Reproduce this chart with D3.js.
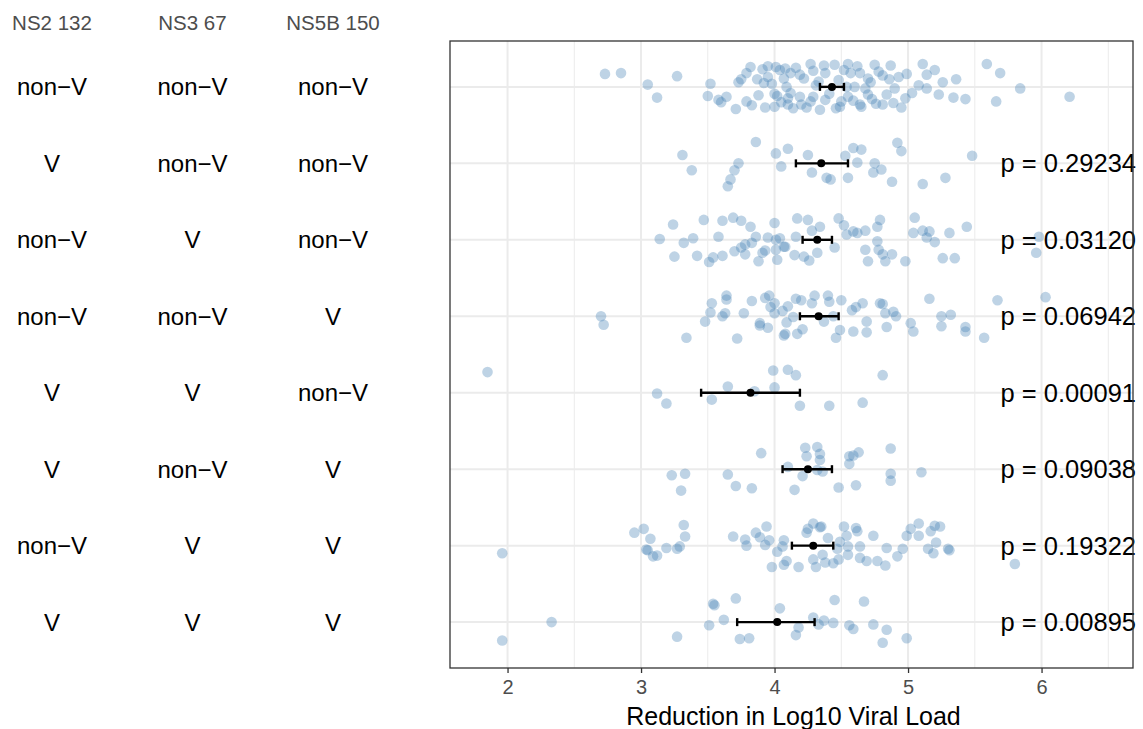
<!DOCTYPE html>
<html>
<head>
<meta charset="utf-8">
<script src="https://cdn.jsdelivr.net/npm/d3@7"></script>
<style>
  body { margin: 0; background: #fff; }
  svg text { font-family: "Liberation Sans", Arial, Helvetica, sans-serif; }
</style>
</head>
<body>
<svg id="chart" width="1143" height="729"></svg>
<script>
// Variant status at the three sites, one entry per genotype combination (top to bottom)
const siteNames = ["NS2 132", "NS3 67", "NS5B 150"];
const ns2Status  = ["non−V", "V", "non−V", "non−V", "V", "V", "non−V", "V"];
const ns3Status  = ["non−V", "non−V", "V", "non−V", "V", "non−V", "V", "V"];
const ns5bStatus = ["non−V", "non−V", "non−V", "V", "non−V", "V", "V", "V"];

// Comparison p-values against the all non-variant group
const pValues = [null, "0.29234", "0.03120", "0.06942", "0.00091", "0.09038", "0.19322", "0.00895"];

// Group mean and interval of the reduction in log10 viral load
const groupMeans = [4.43, 4.35, 4.32, 4.33, 3.82, 4.25, 4.29, 4.02];
const groupLower = [4.34, 4.16, 4.21, 4.19, 3.45, 4.06, 4.13, 3.72];
const groupUpper = [4.52, 4.55, 4.43, 4.48, 4.19, 4.43, 4.44, 4.30];

// Individual patients: [reduction, vertical jitter in row units]
const patientsG1 = [[2.73,-0.17],[2.85,-0.18],[3.05,-0.03],[3.27,-0.14],[3.12,0.14],[3.52,-0.04],[3.50,0.12],[3.58,0.17],[3.60,0.20],[3.64,0.13],[3.71,0.29],[3.73,-0.06],[3.75,-0.10],[3.79,-0.18],[3.82,-0.26],[3.79,0.19],[3.83,0.24],[3.87,-0.10],[3.88,0.11],[3.91,-0.23],[3.93,0.27],[3.95,-0.27],[3.95,-0.13],[3.98,-0.04],[4.00,0.09],[4.00,0.26],[4.01,-0.26],[4.02,0.12],[4.04,-0.22],[4.07,-0.11],[4.08,-0.24],[4.09,0.00],[4.10,0.15],[4.16,-0.25],[4.19,-0.16],[4.22,-0.11],[4.27,-0.30],[4.29,-0.21],[4.37,-0.28],[4.38,-0.18],[4.45,-0.29],[4.48,-0.09],[4.55,-0.30],[4.57,-0.18],[4.64,-0.18],[4.70,-0.11],[4.75,-0.29],[4.81,-0.15],[4.87,-0.28],[4.93,-0.13],[4.99,-0.17],[5.11,-0.30],[5.14,-0.16],[5.20,-0.22],[5.26,-0.06],[5.36,-0.10],[5.59,-0.30],[5.69,-0.18],[5.84,0.02],[6.21,0.13],[5.66,0.19],[5.43,0.16],[5.34,0.14],[5.23,0.10],[5.14,0.02],[5.08,-0.02],[4.98,0.15],[4.95,0.27],[4.89,0.21],[4.81,0.23],[4.70,0.10],[4.68,0.02],[4.65,0.26],[4.64,0.23],[4.55,0.13],[4.50,0.19],[4.49,0.26],[4.38,0.17],[4.34,0.30],[4.29,0.13],[4.27,0.19],[4.20,0.23],[4.19,0.13],[4.14,0.28],[4.12,0.08],[4.10,0.23],[4.90,0.02],[4.84,0.10],[4.72,-0.06],[4.60,0.00],[4.33,-0.07],[4.54,0.00],[4.05,0.20],[4.12,-0.18],[4.24,0.27],[4.31,-0.02],[4.41,0.09],[4.46,0.28],[4.52,-0.22],[4.59,0.18],[4.62,-0.27],[4.73,0.16],[4.78,-0.20],[4.86,-0.10],[5.03,0.08],[3.92,-0.05],[4.76,0.22]];
const patientsG2 = [[3.86,-0.28],[4.01,-0.13],[4.05,0.04],[3.31,-0.11],[3.38,0.09],[3.73,0.00],[3.70,0.09],[3.67,0.21],[3.65,0.30],[4.10,-0.19],[4.25,-0.11],[4.28,0.12],[4.39,0.19],[4.42,0.21],[4.53,-0.10],[4.59,-0.20],[4.65,-0.18],[4.62,-0.01],[4.55,0.19],[4.75,0.00],[4.74,0.12],[4.80,0.08],[4.88,0.24],[4.92,-0.27],[4.95,-0.16],[5.11,0.27],[5.28,0.19],[5.48,-0.10]];
const patientsG3 = [[3.24,-0.20],[3.14,-0.01],[3.25,0.22],[3.32,0.04],[3.39,-0.02],[3.42,0.21],[3.47,-0.26],[3.51,0.29],[3.54,0.23],[3.58,-0.04],[3.61,-0.25],[3.61,0.21],[3.69,-0.29],[3.70,0.15],[3.75,-0.25],[3.75,0.10],[3.78,0.19],[3.78,0.06],[3.82,-0.17],[3.83,0.04],[3.86,-0.04],[3.88,0.28],[3.91,0.17],[3.93,0.14],[3.95,-0.03],[4.00,-0.22],[4.01,0.00],[4.02,0.26],[4.01,0.13],[4.04,-0.02],[4.07,0.09],[4.17,-0.28],[4.25,-0.26],[4.28,-0.12],[4.34,-0.17],[4.16,-0.04],[4.08,0.09],[4.15,0.20],[4.22,0.22],[4.26,0.27],[4.32,0.17],[4.45,0.10],[4.48,-0.28],[4.52,-0.19],[4.54,-0.07],[4.59,-0.11],[4.62,-0.09],[4.68,-0.12],[4.68,0.13],[4.70,0.28],[4.77,0.02],[4.77,-0.17],[4.79,-0.26],[4.78,0.13],[4.81,0.19],[4.83,0.28],[4.88,0.19],[4.98,0.28],[5.04,-0.09],[5.05,-0.29],[5.11,-0.12],[5.14,-0.03],[5.16,-0.11],[5.20,0.03],[5.26,0.24],[5.31,-0.09],[5.35,0.24],[5.44,-0.17],[5.96,0.17],[5.98,-0.04]];
const patientsG4 = [[2.70,0.00],[2.72,0.11],[3.34,0.28],[3.48,0.07],[3.52,-0.05],[3.53,-0.17],[3.61,0.00],[3.63,-0.04],[3.64,-0.22],[3.64,-0.27],[3.72,0.29],[3.77,-0.04],[3.83,-0.20],[3.89,0.09],[3.89,0.12],[3.93,-0.24],[3.96,-0.27],[3.95,0.15],[3.97,-0.12],[4.00,-0.04],[4.00,-0.17],[4.06,-0.07],[4.07,0.25],[4.09,0.08],[4.10,-0.13],[4.16,-0.23],[4.20,-0.21],[4.14,0.01],[4.08,0.23],[4.17,0.23],[4.21,0.17],[4.28,-0.17],[4.30,-0.27],[4.40,-0.27],[4.41,-0.19],[4.37,0.07],[4.44,0.00],[4.50,-0.21],[4.49,0.18],[4.46,0.28],[4.59,0.20],[4.58,-0.08],[4.61,-0.12],[4.66,-0.17],[4.69,0.07],[4.69,0.21],[4.79,-0.17],[4.81,-0.16],[4.83,-0.04],[4.84,0.14],[4.89,-0.06],[4.91,0.00],[5.02,0.09],[5.04,0.20],[5.16,-0.23],[5.25,0.00],[5.25,0.13],[5.32,-0.02],[5.43,0.14],[5.43,0.20],[5.57,0.28],[5.67,-0.21],[6.03,-0.25]];
const patientsG5 = [[1.85,-0.27],[3.12,0.01],[3.19,0.14],[3.53,0.09],[3.65,-0.08],[3.85,-0.02],[3.99,-0.29],[4.00,-0.07],[4.10,-0.30],[4.16,-0.23],[4.19,0.17],[4.41,0.17],[4.66,0.13],[4.81,-0.23]];
const patientsG6 = [[3.90,-0.21],[3.23,0.08],[3.33,0.06],[3.30,0.28],[3.65,0.07],[3.71,0.22],[3.83,0.25],[4.10,-0.03],[4.15,0.27],[4.21,0.09],[4.23,-0.28],[4.24,-0.17],[4.32,-0.29],[4.34,-0.20],[4.34,-0.12],[4.32,0.01],[4.36,0.03],[4.48,0.24],[4.56,-0.17],[4.56,-0.07],[4.59,-0.18],[4.63,-0.22],[4.61,0.21],[4.87,-0.27],[4.87,0.06],[4.87,0.15],[5.10,0.04]];
const patientsG7 = [[1.96,0.10],[2.95,-0.17],[3.02,-0.22],[3.07,-0.09],[3.04,0.05],[3.05,0.06],[3.09,0.14],[3.12,0.13],[3.19,0.03],[3.27,0.04],[3.29,0.01],[3.32,-0.27],[3.33,-0.12],[3.69,-0.12],[3.78,-0.08],[3.79,0.00],[3.86,-0.17],[3.89,-0.11],[3.94,-0.25],[3.93,-0.01],[3.96,-0.07],[3.98,0.28],[4.02,0.08],[4.06,0.01],[4.07,-0.07],[4.07,0.25],[4.09,0.20],[4.18,0.28],[4.24,-0.17],[4.25,-0.22],[4.29,-0.29],[4.34,-0.24],[4.35,-0.25],[4.29,0.18],[4.31,0.28],[4.36,0.12],[4.38,0.22],[4.40,-0.10],[4.44,0.23],[4.48,0.18],[4.47,0.04],[4.49,-0.05],[4.52,-0.25],[4.54,-0.13],[4.55,0.01],[4.55,0.12],[4.61,-0.23],[4.62,-0.19],[4.64,0.01],[4.64,0.16],[4.69,0.20],[4.74,-0.13],[4.77,0.20],[4.83,0.26],[4.84,0.03],[4.92,0.14],[4.96,0.04],[4.99,-0.13],[5.02,-0.22],[5.08,-0.29],[5.08,-0.13],[5.17,-0.19],[5.20,-0.26],[5.24,-0.25],[5.21,-0.04],[5.15,0.04],[5.19,0.10],[5.30,0.04],[5.31,0.06],[5.80,0.24]];
const patientsG8 = [[1.96,0.24],[2.33,0.00],[3.27,0.19],[3.51,0.04],[3.54,-0.24],[3.55,-0.22],[3.62,-0.03],[3.71,-0.31],[3.74,0.22],[3.81,0.21],[4.04,-0.18],[4.18,0.07],[4.16,0.17],[4.29,-0.06],[4.33,0.03],[4.37,-0.02],[4.44,0.01],[4.45,-0.29],[4.56,0.04],[4.59,0.09],[4.67,-0.27],[4.74,0.03],[4.84,0.10],[4.81,0.27],[4.99,0.21]];

// Axis ticks
const majorTicks = [2, 3, 4, 5, 6];
const minorTicks = [2.5, 3.5, 4.5, 5.5, 6.5];
const axisTitle = "Reduction in Log10 Viral Load";

const groups = [patientsG1, patientsG2, patientsG3, patientsG4, patientsG5, patientsG6, patientsG7, patientsG8];
const statusColumns = [ns2Status, ns3Status, ns5bStatus];

const svg = d3.select("#chart");
const panel = { left: 450, right: 1133, top: 41, bottom: 668 };

const x = d3.scaleLinear().domain([1.569, 6.685]).range([panel.left, panel.right]);
const y = d3.scalePoint().domain(d3.range(groups.length)).range([panel.top, panel.bottom]).padding(0.6);
const colX = d3.scalePoint().domain(siteNames).range([52, 333]);

// Grid
const grid = svg.append("g");
grid.selectAll("line.minor").data(minorTicks.filter(t => x(t) < panel.right)).join("line")
  .attr("x1", d => x(d)).attr("x2", d => x(d))
  .attr("y1", panel.top).attr("y2", panel.bottom)
  .attr("stroke", "#ebebeb").attr("stroke-width", 1);
grid.selectAll("line.majx").data(majorTicks).join("line")
  .attr("x1", d => x(d)).attr("x2", d => x(d))
  .attr("y1", panel.top).attr("y2", panel.bottom)
  .attr("stroke", "#ebebeb").attr("stroke-width", 2);
grid.selectAll("line.majy").data(y.domain()).join("line")
  .attr("x1", panel.left).attr("x2", panel.right)
  .attr("y1", d => y(d)).attr("y2", d => y(d))
  .attr("stroke", "#ebebeb").attr("stroke-width", 2);

// Patient points
const pts = groups.flatMap((g, i) => g.map(([v, j]) => ({ i, v, j })));
svg.append("g").selectAll("circle").data(pts).join("circle")
  .attr("cx", d => x(d.v))
  .attr("cy", d => y(d.i) + d.j * y.step())
  .attr("r", 5.3)
  .attr("fill", "#4682b4")
  .attr("fill-opacity", 0.35);

// Mean and interval
const summary = groupMeans.map((m, i) => ({ i, m, lo: groupLower[i], hi: groupUpper[i] }));
const eb = svg.append("g").attr("stroke", "#000").attr("stroke-width", 2.4);
eb.selectAll("line.bar").data(summary).join("line")
  .attr("x1", d => x(d.lo)).attr("x2", d => x(d.hi))
  .attr("y1", d => y(d.i)).attr("y2", d => y(d.i));
eb.selectAll("line.lo").data(summary).join("line")
  .attr("x1", d => x(d.lo)).attr("x2", d => x(d.lo))
  .attr("y1", d => y(d.i) - 4).attr("y2", d => y(d.i) + 4);
eb.selectAll("line.hi").data(summary).join("line")
  .attr("x1", d => x(d.hi)).attr("x2", d => x(d.hi))
  .attr("y1", d => y(d.i) - 4).attr("y2", d => y(d.i) + 4);
svg.append("g").selectAll("circle").data(summary).join("circle")
  .attr("cx", d => x(d.m)).attr("cy", d => y(d.i)).attr("r", 4).attr("fill", "#000");

// p-values
svg.append("g").selectAll("text").data(pValues.map((p, i) => ({ p, i })).filter(d => d.p)).join("text")
  .attr("x", 1136).attr("y", d => y(d.i)).attr("dy", "0.35em")
  .attr("text-anchor", "end").attr("font-size", 25.5).attr("fill", "#000")
  .text(d => "p = " + d.p);

// Panel border
svg.append("rect")
  .attr("x", panel.left).attr("y", panel.top)
  .attr("width", panel.right - panel.left).attr("height", panel.bottom - panel.top)
  .attr("fill", "none").attr("stroke", "#333").attr("stroke-width", 1.3);

// X axis
const xAxis = svg.append("g").attr("transform", `translate(0,${panel.bottom})`)
  .call(d3.axisBottom(x).tickValues(majorTicks).tickSize(5).tickPadding(7).tickFormat(d3.format("d")));
xAxis.select(".domain").remove();
xAxis.selectAll(".tick line").attr("stroke", "#333").attr("stroke-width", 1.3);
xAxis.selectAll(".tick text").attr("font-size", 20).attr("fill", "#4d4d4d")
  .attr("font-family", "'Liberation Sans', Arial, sans-serif");

svg.append("text")
  .attr("x", (panel.left + panel.right) / 2 + 2).attr("y", 725)
  .attr("text-anchor", "middle").attr("font-size", 25).attr("fill", "#000")
  .text(axisTitle);

// Genotype table
const table = svg.append("g");
table.selectAll("text.head").data(siteNames).join("text")
  .attr("x", d => colX(d)).attr("y", 23).attr("dy", "0.35em")
  .attr("text-anchor", "middle").attr("font-size", 20.5).attr("fill", "#4d4d4d")
  .text(d => d);
statusColumns.forEach((col, c) => {
  table.append("g").selectAll("text").data(col).join("text")
    .attr("x", colX(siteNames[c])).attr("y", (d, i) => y(i)).attr("dy", "0.35em")
    .attr("text-anchor", "middle").attr("font-size", 24).attr("fill", "#000")
    .text(d => d);
});
</script>
</body>
</html>
